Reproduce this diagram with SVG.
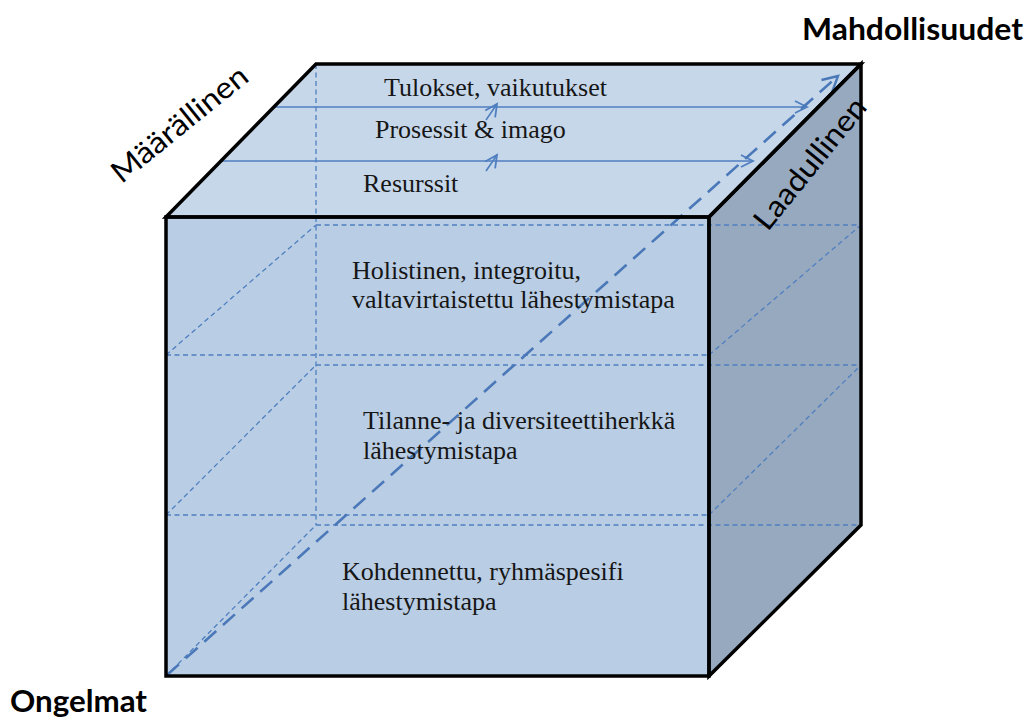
<svg xmlns="http://www.w3.org/2000/svg" width="1029" height="720" viewBox="0 0 1029 720">
<defs>
<style>
.face{stroke:#000;stroke-width:3.5;stroke-linejoin:miter}
.front{fill:#b9cde4}
.top{fill:#c6d7ea}
.side{fill:#97a9bf}
.hid{fill:none;stroke:#4f7fc0;stroke-width:1.3;stroke-dasharray:5,3.5}
.arr{fill:none;stroke:#4f7fc0;stroke-width:1.6}
.diag{fill:none;stroke:#4a78b8;stroke-width:2.6;stroke-dasharray:16,9}
.ser{font-family:"Liberation Serif","Times New Roman",serif;font-size:26px;fill:#161616}
.sans{font-family:Lato,"Liberation Sans",sans-serif;font-size:30px;fill:#000}
.bold{font-weight:bold}
</style>
<marker id="open" markerUnits="userSpaceOnUse" markerWidth="16" markerHeight="16" refX="13" refY="7" orient="auto" viewBox="0 0 16 14">
<path d="M1,1 L13,7 L1,13" fill="none" stroke="#4f7fc0" stroke-width="1.8"/>
</marker>
<marker id="openbig" markerUnits="userSpaceOnUse" markerWidth="20" markerHeight="20" refX="16" refY="9" orient="auto" viewBox="0 0 20 18">
<path d="M1,1 L16,9 L1,17" fill="none" stroke="#4a78b8" stroke-width="2.4"/>
</marker>
</defs>

<g id="cube">
<polygon class="top" points="166,217 316,64 861,64 709,217"/>
<polygon class="side" points="709,217 861,64 861,525 709,676"/>
<rect class="front" x="166" y="217" width="543" height="459"/>
</g>

<g id="connectors">
<g id="hidden-lines">
<line class="hid" x1="316" y1="64" x2="316" y2="525"/>
<line class="hid" x1="316" y1="225" x2="861" y2="225"/>
<line class="hid" x1="166" y1="355" x2="709" y2="355"/>
<line class="hid" x1="316" y1="365" x2="861" y2="365"/>
<line class="hid" x1="166" y1="515" x2="709" y2="515"/>
<line class="hid" x1="316" y1="525" x2="861" y2="525"/>
<line class="hid" x1="166" y1="355" x2="316" y2="225"/>
<line class="hid" x1="166" y1="515" x2="316" y2="365"/>
<line class="hid" x1="166" y1="676" x2="316" y2="525"/>
<line class="hid" x1="709" y1="355" x2="861" y2="225"/>
<line class="hid" x1="709" y1="515" x2="861" y2="365"/>
</g>
<line class="arr" x1="274" y1="107" x2="807" y2="107" marker-end="url(#open)"/>
<line class="arr" x1="221" y1="161" x2="753" y2="161" marker-end="url(#open)"/>
<line class="arr" x1="486" y1="120" x2="497" y2="104" marker-end="url(#open)"/>
<line class="arr" x1="486" y1="171" x2="497" y2="155" marker-end="url(#open)"/>
<line class="diag" x1="167" y1="675" x2="838" y2="76" marker-end="url(#openbig)"/>
</g>

<g id="cube-outline">
<polygon class="face" fill="none" points="166,217 316,64 861,64 709,217"/>
<polygon class="face" fill="none" points="709,217 861,64 861,525 709,676"/>
<rect class="face" fill="none" x="166" y="217" width="543" height="459"/>
</g>

<g id="tulokset"><text class="ser" x="384" y="96">Tulokset, vaikutukset</text></g>
<g id="prosessit"><text class="ser" x="375" y="138">Prosessit &amp; imago</text></g>
<g id="resurssit"><text class="ser" x="363" y="192">Resurssit</text></g>
<g id="holistinen">
<text class="ser" x="352" y="279">Holistinen, integroitu,</text>
<text class="ser" x="352" y="308">valtavirtaistettu lähestymistapa</text>
</g>
<g id="tilanne">
<text class="ser" x="363" y="429">Tilanne- ja diversiteettiherkkä</text>
<text class="ser" x="363" y="459">lähestymistapa</text>
</g>
<g id="kohdennettu">
<text class="ser" x="342" y="580">Kohdennettu, ryhmäspesifi</text>
<text class="ser" x="342" y="610">lähestymistapa</text>
</g>

<g id="maarallinen"><text class="sans" x="0" y="0" text-anchor="middle" textLength="166" lengthAdjust="spacingAndGlyphs" transform="translate(186,132) rotate(-39)">Määrällinen</text></g>
<g id="laadullinen"><text class="sans" x="0" y="0" text-anchor="middle" textLength="160" lengthAdjust="spacingAndGlyphs" transform="translate(818,170) rotate(-51)">Laadullinen</text></g>
<g id="mahdollisuudet"><text class="sans bold" x="802" y="40" textLength="221" lengthAdjust="spacingAndGlyphs">Mahdollisuudet</text></g>
<g id="ongelmat"><text class="sans bold" x="10" y="712" textLength="137" lengthAdjust="spacingAndGlyphs">Ongelmat</text></g>
</svg>
